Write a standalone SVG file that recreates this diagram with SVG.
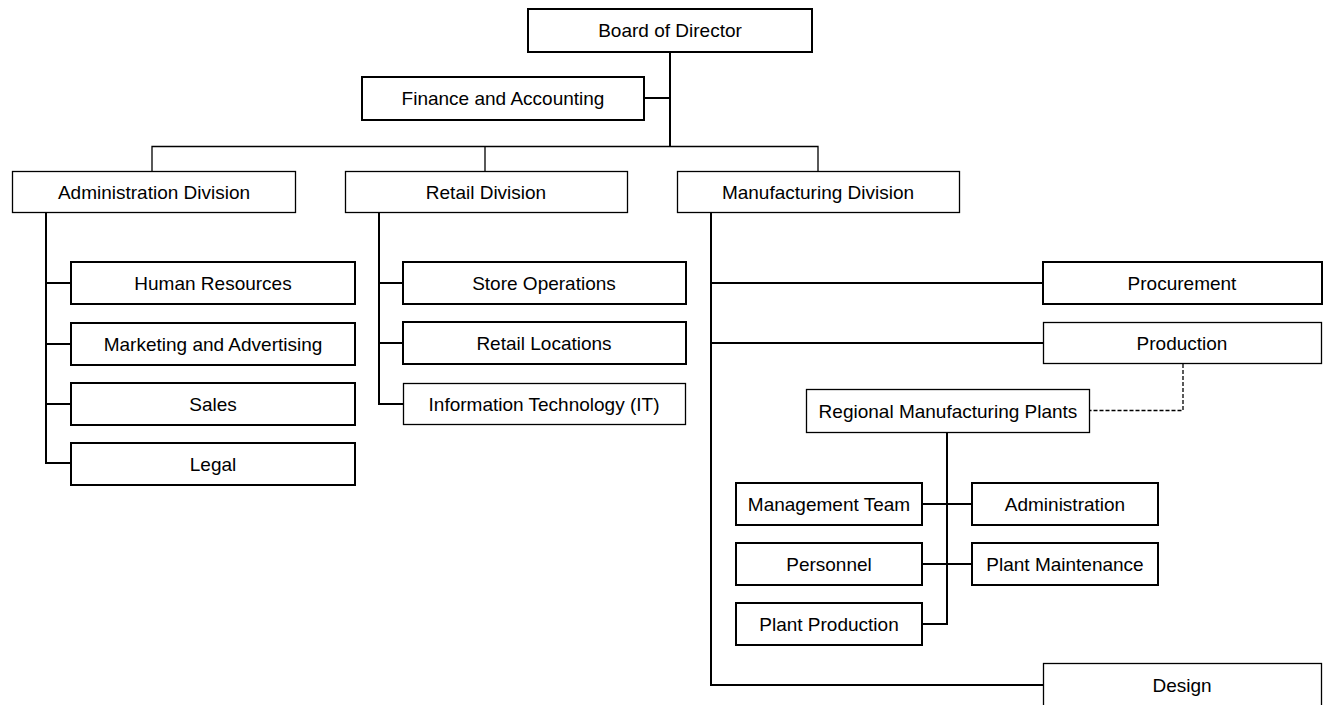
<svg xmlns="http://www.w3.org/2000/svg" width="1331" height="705" viewBox="0 0 1331 705">
<style>
.b{fill:#fff;stroke:#000;stroke-width:2}
.t{fill:#fff;stroke:#000;stroke-width:1.3}
text{font-family:"Liberation Sans",Arial,sans-serif;font-size:19px;fill:#000;text-anchor:middle;dominant-baseline:central}
.c{fill:none;stroke:#000;stroke-width:2}
.ct{fill:none;stroke:#000;stroke-width:1.3}
.d{fill:none;stroke:#000;stroke-width:1.3;stroke-dasharray:4 2}
</style>
<rect width="1331" height="705" fill="#fff"/>
<g id="connectors">
<path class="c" d="M670 52V146M644 98H670"/>
<path class="ct" d="M152 172V146.5H818V172M485 146.5V172"/>
<path class="c" d="M46 212V463H71M46 283H71M46 344H71M46 404H71"/>
<path class="c" d="M379 212V404H403M379 283H403M379 343H403"/>
<path class="c" d="M711 212V685H1043M711 283H1043M711 343H1043"/>
<path class="d" d="M1183 364V410.5H1090"/>
<path class="c" d="M947 433V624H922M922 504H972M922 564H972"/>
</g>
<g id="board"><rect class="b" x="528" y="9" width="284" height="43"/><text x="670" y="30">Board of Director</text></g>
<g id="finance"><rect class="b" x="362" y="77" width="282" height="43"/><text x="503" y="98">Finance and Accounting</text></g>
<g id="admin-div"><rect class="t" x="12.5" y="171.5" width="283" height="41"/><text x="154" y="192">Administration Division</text></g>
<g id="retail-div"><rect class="t" x="345.5" y="171.5" width="282" height="41"/><text x="486" y="192">Retail Division</text></g>
<g id="mfg-div"><rect class="t" x="677.5" y="171.5" width="282" height="41"/><text x="818" y="192">Manufacturing Division</text></g>
<g id="hr"><rect class="b" x="71" y="262" width="284" height="42"/><text x="213" y="283">Human Resources</text></g>
<g id="marketing"><rect class="b" x="71" y="323" width="284" height="42"/><text x="213" y="344">Marketing and Advertising</text></g>
<g id="sales"><rect class="b" x="71" y="383" width="284" height="42"/><text x="213" y="404">Sales</text></g>
<g id="legal"><rect class="b" x="71" y="443" width="284" height="42"/><text x="213" y="464">Legal</text></g>
<g id="store-ops"><rect class="b" x="403" y="262" width="283" height="42"/><text x="544" y="283">Store Operations</text></g>
<g id="retail-loc"><rect class="b" x="403" y="322" width="283" height="42"/><text x="544" y="343">Retail Locations</text></g>
<g id="it"><rect class="t" x="403.5" y="383.5" width="282" height="41"/><text x="544" y="404">Information Technology (IT)</text></g>
<g id="procurement"><rect class="b" x="1043" y="262" width="279" height="42"/><text x="1182" y="283">Procurement</text></g>
<g id="production"><rect class="t" x="1043.5" y="322.5" width="278" height="41"/><text x="1182" y="343">Production</text></g>
<g id="regional"><rect class="t" x="806.5" y="389.5" width="283" height="43"/><text x="948" y="411">Regional Manufacturing Plants</text></g>
<g id="mgmt"><rect class="b" x="736" y="483" width="186" height="42"/><text x="829" y="504">Management Team</text></g>
<g id="administration"><rect class="b" x="972" y="483" width="186" height="42"/><text x="1065" y="504">Administration</text></g>
<g id="personnel"><rect class="b" x="736" y="543" width="186" height="42"/><text x="829" y="564">Personnel</text></g>
<g id="maintenance"><rect class="b" x="972" y="543" width="186" height="42"/><text x="1065" y="564">Plant Maintenance</text></g>
<g id="plant-prod"><rect class="b" x="736" y="603" width="186" height="42"/><text x="829" y="624">Plant Production</text></g>
<g id="design"><rect class="t" x="1043.5" y="663.5" width="278" height="50"/><text x="1182" y="685">Design</text></g>
</svg>
